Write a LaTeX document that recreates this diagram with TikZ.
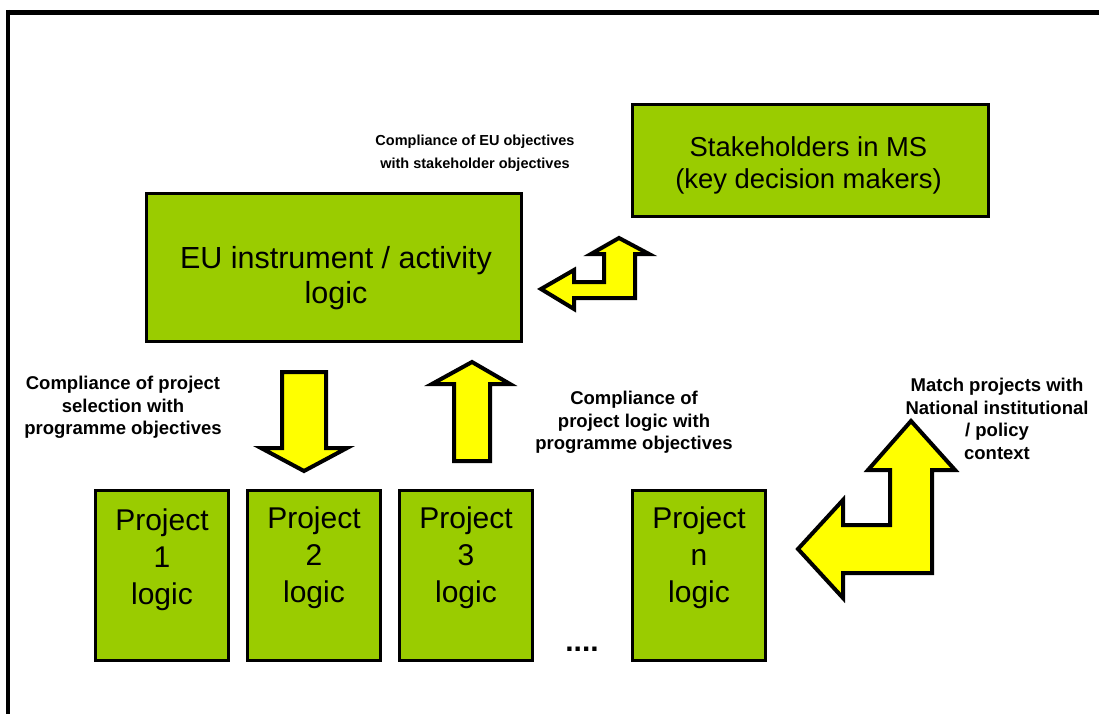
\documentclass[tikz,border=0pt]{standalone}
\usepackage{fontspec}
\setmainfont{Liberation Sans}
\definecolor{boxgreen}{HTML}{9ACC00}
\definecolor{arrowyellow}{HTML}{FFFF00}
\begin{document}
\begin{tikzpicture}[x=1pt,y=-1pt,
  greenbox/.style={draw=black, line width=3pt, fill=boxgreen, inner sep=0pt},
  boxtext/.style={anchor=north, inner sep=0pt, align=center, text=black},
  lbl/.style={inner sep=0pt, align=center, font=\fontsize{14.5}{22.5}\selectfont\bfseries},
  biglbl/.style={inner sep=0pt, align=center, font=\fontsize{18.5}{22.5}\selectfont\bfseries},
  blockarrow/.style={draw=black, line width=4pt, fill=arrowyellow, line join=miter}]
\useasboundingbox (0,0) rectangle (1099,714);
% frame
\draw[line width=5pt] (6,12.5) -- (1099,12.5);
\draw[line width=4pt] (8,10) -- (8,714);
% boxes
\node[greenbox, minimum width=375pt, minimum height=148pt] (eu) at (334,267.5) {};
\node[greenbox, minimum width=356pt, minimum height=112pt] (sh) at (810.5,160.5) {};
\node[greenbox, minimum width=133pt, minimum height=170pt] (p1) at (162,575.5) {};
\node[greenbox, minimum width=133pt, minimum height=170pt] (p2) at (314,575.5) {};
\node[greenbox, minimum width=133pt, minimum height=170pt] (p3) at (466,575.5) {};
\node[greenbox, minimum width=133pt, minimum height=170pt] (pn) at (699,575.5) {};
% box texts
\node[boxtext, font=\fontsize{30.5}{35}\selectfont] (eut) at (336,246) {EU instrument / activity\\logic};
\node[boxtext, font=\fontsize{27.4}{32}\selectfont] (sht) at (808.5,136) {Stakeholders in MS\\(key decision makers)};
\node[boxtext, font=\fontsize{30}{37}\selectfont] (p1t) at (162,509) {Project\\1\\logic};
\node[boxtext, font=\fontsize{30}{37}\selectfont] (p2t) at (314,507) {Project\\2\\logic};
\node[boxtext, font=\fontsize{30}{37}\selectfont] (p3t) at (466,507) {Project\\3\\logic};
\node[boxtext, font=\fontsize{30}{37}\selectfont] (pnt) at (699,507) {Project\\n\\logic};
\node[inner sep=0pt, anchor=base, font=\fontsize{30}{36}\selectfont\bfseries] (dots) at (582,651) {....};
% labels
\node[lbl, anchor=north] (l1) at (475,135) {Compliance of EU objectives\\with stakeholder objectives};
\node[biglbl, anchor=north] (l2) at (123,376) {Compliance of project\\selection with\\programme objectives};
\node[biglbl, anchor=north] (l3) at (634,391) {Compliance of\\project logic with\\programme objectives};
\node[biglbl, anchor=north] (l4) at (997,378) {Match projects with\\National institutional\\/ policy\\context};
% block arrows
\draw[blockarrow] (282,372) -- (326,372) -- (326,448) -- (347,448) -- (304,471) -- (261,448) -- (282,448) -- cycle;
\draw[blockarrow] (454,461) -- (490,461) -- (490,384) -- (510,384) -- (472,362) -- (432,384) -- (454,384) -- cycle;
\draw[blockarrow] (541,289) -- (574,270) -- (574,282) -- (604,282) -- (604,254) -- (591,254) -- (619,238) -- (649,254) -- (635,254) -- (635,298) -- (574,298) -- (574,309) -- cycle;
\draw[blockarrow] (798,549) -- (843,500) -- (843,525) -- (890,525) -- (890,470) -- (868,470) -- (911,421) -- (955,470) -- (932,470) -- (932,573) -- (843,573) -- (843,598) -- cycle;
\end{tikzpicture}
\end{document}
